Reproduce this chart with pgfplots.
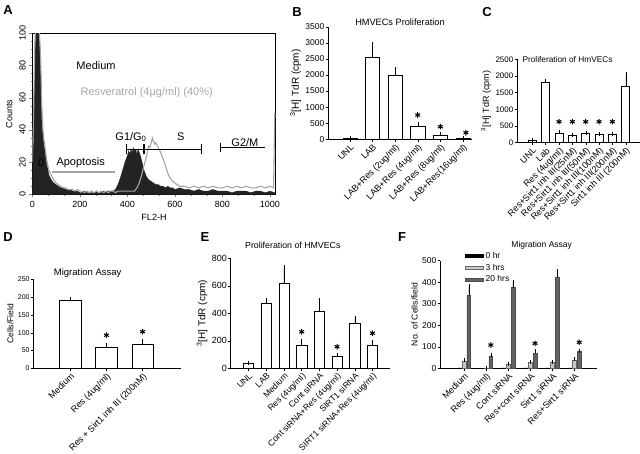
\documentclass[border=0pt]{standalone}
\usepackage{pgfplots}
\pgfplotsset{compat=1.18}
\usepackage{fontspec}
\setmainfont{Liberation Sans}
\definecolor{histgray}{RGB}{165,165,165}
\definecolor{histblack}{RGB}{35,35,35}
\definecolor{barthree}{RGB}{200,200,200}
\definecolor{bartwenty}{RGB}{100,100,100}
\newcommand{\fs}[1]{\fontsize{#1}{#1}\selectfont}
\pgfplotsset{
  every axis title shift=0pt,
  barpanel/.style={
    scale only axis, anchor=south west, clip=false,
    axis x line*=bottom, axis y line*=left,
    axis line style={-, black, line width=0.5pt},
    ymin=0, tick align=outside,
    major tick length=2.5pt,
    ytick style={black, line width=0.4pt},
    xtick style={black, line width=0.4pt},
    /pgf/number format/assume math mode=true,
    /pgf/number format/1000 sep={},
    scaled y ticks=false,
    yticklabel style={font=\fs{8.5}, inner sep=1pt},
    xticklabel style={font=\fs{9}, rotate=45, anchor=north east, inner sep=1pt},
    ylabel style={font=\fs{9}},
    title style={font=\fs{9}},
    bar width=0.6,
  },
  wbar/.style={ybar, bar shift=0pt, fill=white, draw=black, line width=0.5pt,
    error bars/y dir=plus, error bars/y explicit,
    error bars/error bar style={line width=0.4pt, black},
    error bars/error mark options={mark size=2pt, line width=0.4pt, black}},
  star/.style={only marks, mark=asterisk, mark size=2.8pt, line width=1pt, black},
}
\begin{document}
\begin{tikzpicture}
\useasboundingbox (0pt,0pt) rectangle (640pt,453pt);
% ---------------- Panel A ----------------
\begin{axis}[
  scale only axis, anchor=south west, at={(32.3pt,258.7pt)},
  width=243.4pt, height=161pt,
  xmin=0, xmax=1024, ymin=0, ymax=100,
  xtick={0,200,...,1000}, ytick={0,20,...,100},
  minor x tick num=2, minor y tick num=3,
  tick align=outside, tick pos=left,
  major tick length=3pt, minor tick length=1.5pt,
  /pgf/number format/assume math mode=true, /pgf/number format/1000 sep={},
  xticklabel style={font=\fs{9}},
  yticklabel style={font=\fs{9}, rotate=90, anchor=south},
  xlabel={FL2-H}, ylabel={Counts},
  xlabel style={font=\fs{9}}, ylabel style={font=\fs{9}},
  axis line style={line width=0.6pt},
]
\addplot[fill=histblack, draw=histblack, line width=0.3pt] table[row sep=\\] {
x y\\ 0 0\\ 2 15\\ 5 40\\ 10 85\\ 15 105\\ 20 110\\ 25 110\\ 30 100\\ 35 80\\ 40 45\\ 45 36\\ 50 30\\ 55 25\\ 60 19\\ 65 16\\ 70 12\\ 80 9\\ 90 7\\ 100 6\\ 110 5\\ 120 4\\ 130 4\\ 140 3\\ 150 3\\ 160 3\\ 170 2\\ 180 2\\ 190 2\\ 200 1\\ 210 1\\ 220 2\\ 230 1\\ 240 1\\ 250 1\\ 260 1\\ 270 2\\ 280 1\\ 290 1\\ 300 2\\ 310 1\\ 320 2\\ 330 2\\ 340 2\\ 350 3\\ 360 6\\ 370 10\\ 380 15\\ 390 20\\ 400 24\\ 405 27\\ 410 25\\ 415 28\\ 420 26\\ 425 29\\ 430 27\\ 435 28\\ 440 25\\ 445 28\\ 450 26\\ 455 24\\ 460 21\\ 465 18\\ 470 15\\ 475 13\\ 480 11\\ 490 9\\ 500 8\\ 510 7\\ 520 6\\ 530 6\\ 540 5\\ 550 5\\ 560 4\\ 570 5\\ 580 4\\ 590 4\\ 600 3\\ 620 4\\ 640 3\\ 660 3\\ 680 2\\ 700 3\\ 720 2\\ 740 2\\ 760 3\\ 780 2\\ 800 2\\ 820 2\\ 840 1\\ 860 2\\ 880 2\\ 900 2\\ 920 1\\ 940 2\\ 960 2\\ 980 1\\ 1000 2\\ 1020 1\\ 1023 0\\
} \closedcycle;
\addplot[histgray, line width=1.1pt] table[row sep=\\] {
x y\\ 0 20\\ 5 45\\ 10 90\\ 15 110\\ 20 110\\ 25 105\\ 30 100\\ 35 85\\ 40 55\\ 45 40\\ 50 33\\ 55 28\\ 60 22\\ 65 18\\ 70 15\\ 80 12\\ 90 9\\ 100 7\\ 110 6\\ 120 5\\ 130 4\\ 140 4\\ 150 3\\ 160 3\\ 170 3\\ 180 2\\ 190 3\\ 200 2\\ 210 2\\ 220 1\\ 230 2\\ 240 1\\ 250 2\\ 260 1\\ 270 2\\ 280 1\\ 290 2\\ 300 1\\ 310 2\\ 320 1\\ 330 2\\ 340 2\\ 350 1\\ 360 2\\ 370 2\\ 380 2\\ 390 2\\ 400 2\\ 410 2\\ 420 2\\ 430 2\\ 440 4\\ 450 7\\ 460 12\\ 470 18\\ 480 23\\ 485 27\\ 490 30\\ 495 29\\ 500 32\\ 505 35\\ 510 33\\ 515 31\\ 520 32\\ 530 29\\ 540 26\\ 550 22\\ 560 18\\ 570 13\\ 580 10\\ 590 8\\ 600 7\\ 610 6\\ 620 5\\ 640 5\\ 660 4\\ 680 5\\ 700 4\\ 720 5\\ 740 4\\ 760 5\\ 780 4\\ 800 4\\ 820 5\\ 840 4\\ 860 5\\ 880 4\\ 900 5\\ 920 4\\ 940 4\\ 960 5\\ 980 4\\ 1000 5\\ 1015 4\\ 1020 50\\ 1023 50\\
};
\node[anchor=west, font=\fs{11}] at (axis cs:171,80) {Medium};
\node[anchor=west, font=\fs{11}, text=histgray] at (axis cs:188,63) {Resveratrol (4μg/ml) (40\%)};
\node[anchor=west, font=\fs{11}] at (axis cs:335,35.6) {G1/G\textsubscript{0}};
\node[font=\fs{11}] at (axis cs:625,35.6) {S};
\node[anchor=west, font=\fs{11}] at (axis cs:823,31.9) {G2/M};
\node[anchor=west, font=\fs{11}] at (axis cs:87,19.4) {Apoptosis};
\node[font=\fs{11}] at (axis cs:37,19.4) {0};
\draw[histgray, line width=1.2pt] (axis cs:83,13.9) -- (axis cs:348,13.9);
\draw[black, line width=0.6pt] (axis cs:394,25) -- (axis cs:394,31) (axis cs:394,28) -- (axis cs:467,28) (axis cs:467,25) -- (axis cs:467,31);
\draw[black, line width=0.6pt] (axis cs:471,25) -- (axis cs:471,31) (axis cs:471,28) -- (axis cs:712,28) (axis cs:712,25) -- (axis cs:712,31);
\draw[black, line width=0.6pt] (axis cs:790,26) -- (axis cs:790,32) (axis cs:790,29) -- (axis cs:979,29);
\end{axis}
% ---------------- Panel B ----------------
\begin{axis}[barpanel, at={(328pt,313.7pt)}, width=144pt, height=112.6pt,
  xmin=-0.97, xmax=5.4, ymax=3500, ytick={0,500,...,3500},
  xtick={0,...,5}, xticklabels={UNL, LAB, LAB+Res (2ug/ml), LAB+Res (4ug/ml), LAB+Res (8ug/ml), LAB+Res(16ug/ml)},
  ylabel={\textsuperscript{3}[H] TdR (cpm)}, ylabel style={font=\fs{10}},
  title={HMVECs Proliferation}, title style={font=\fs{9.2}, at={(axis description cs:0.5,1.036)}, anchor=center},
  bar width=0.62]
\addplot[wbar] table[row sep=\\, x=x, y=y, y error=e] {x y e\\ 0 30 8\\ 1 2550 400\\ 2 2000 170\\ 3 420 45\\ 4 130 25\\ 5 30 12\\};
\addplot[star] coordinates {(3,755) (4,392) (5.13,205)};
\end{axis}
% ---------------- Panel C ----------------
\begin{axis}[barpanel, at={(517pt,310.3pt)}, width=123pt, height=83.4pt,
  xmin=-1.15, xmax=8.07, ymax=2500, ytick={0,500,...,2500},
  yticklabel style={font=\fs{8}},
  xtick={0,...,7}, xticklabels={UNL, Lab, Res (4ug/ml), Res+Sirt1 inh III(25nM), Res+Sirt1 inh III(50nM), Res+Sirt1 inh III(100nM), Res+Sirt1 inh III(200nM), Sirt1 inh III (200nM)},
  ylabel={\textsuperscript{3}[H] TdR (cpm)},
  bar width=0.6]
\addplot[wbar] table[row sep=\\, x=x, y=y, y error=e] {x y e\\ 0 60 20\\ 1 1800 50\\ 2 270 50\\ 3 210 30\\ 4 270 10\\ 5 240 25\\ 6 265 10\\ 7 1700 350\\};
\addplot[star] coordinates {(2,630) (3,630) (4,630) (5,630) (6,630)};
\node[anchor=west, font=\fs{8.3}, inner sep=0pt] at (axis cs:-0.75,2500) {Proliferation of HmVECs};
\end{axis}
% ---------------- Panel D ----------------
\begin{axis}[barpanel, at={(33.3pt,84.7pt)}, width=147.7pt, height=89pt,
  xmin=-1.02, xmax=3.06, ymax=250, ytick={0,50,...,250},
  yticklabel style={font=\fs{7}},
  xtick={0,1,2}, xticklabels={Medium, Res (4ug/ml), Res + Sirt1 inh III (200nM)},
  ylabel={Cells/Field}, ylabel style={font=\fs{8.5}},
  title={Migration Assay}, title style={font=\fs{9.5}, at={(axis description cs:0.368,1.067)}, anchor=center},
  bar width=0.6]
\addplot[wbar] table[row sep=\\, x=x, y=y, y error=e] {x y e\\ 0 190 6\\ 1 60 6\\ 2 67 9\\};
\addplot[star] coordinates {(1,93) (2,103)};
\end{axis}
% ---------------- Panel E ----------------
\begin{axis}[barpanel, at={(230.7pt,84.7pt)}, width=159.3pt, height=110pt,
  xmin=-1.01, xmax=7.99, ymax=800, ytick={0,200,...,800},
  yticklabel style={font=\fs{9}},
  xtick={0,...,7}, xticklabels={UNL, LAB, Medium, Res (4ug/ml), Cont siRNA, Cont siRNA+Res (4ug/ml), SIRT1 siRNA, SIRT1 siRNA+Res (4ug/ml)},
  xticklabel style={font=\fs{8.6}},
  ylabel={\textsuperscript{3}[H] TdR (cpm)}, ylabel style={font=\fs{10}},
  title={Proliferation of HMVECs}, title style={font=\fs{8.8}, at={(axis description cs:0.39,1.12)}, anchor=center},
  bar width=0.58]
\addplot[wbar] table[row sep=\\, x=x, y=y, y error=e] {x y e\\ 0 38 3\\ 1 470 30\\ 2 615 125\\ 3 170 32\\ 4 415 82\\ 5 88 7\\ 6 325 42\\ 7 170 18\\};
\addplot[star] coordinates {(3,266) (5,157) (7,255)};
\end{axis}
% ---------------- Panel F ----------------
\begin{axis}[barpanel, at={(440pt,84.7pt)}, width=156.7pt, height=107.7pt,
  xmin=-1.09, xmax=6.0, ymax=500, ytick={0,100,...,500},
  yticklabel style={font=\fs{8.5}},
  xtick={0,...,5}, xticklabels={Medium, Res (4ug/ml), Cont siRNA, Res+cont siRNA, Sirt1 siRNA, Res+Sirt1 siRNA},
  ylabel={No. of Cells/field}, ylabel style={font=\fs{8.6}},
  title={Migration Assay}, title style={font=\fs{8.5}, at={(axis description cs:0.649,1.146)}, anchor=center},
  legend style={at={(axis description cs:0.16,1.098)}, anchor=north west, draw=none, fill=none, font=\fs{8.5}, inner sep=0pt, row sep=0pt},
  legend cell align=left,
  bar width=0.17]
\addlegendimage{legend image code/.code={\draw[fill=black, draw=black] (0pt,-1.6pt) rectangle (18pt,1.6pt);}}
\addlegendentry{0 hr}
\addlegendimage{legend image code/.code={\draw[fill=barthree, draw=black!60] (0pt,-1.6pt) rectangle (18pt,1.6pt);}}
\addlegendentry{3 hrs}
\addlegendimage{legend image code/.code={\draw[fill=bartwenty, draw=black!70] (0pt,-1.6pt) rectangle (18pt,1.6pt);}}
\addlegendentry{20 hrs}
\addplot[ybar, bar shift=0pt, fill=black, draw=black, line width=0.3pt] table[row sep=\\] {x y\\ -0.21 2\\ 0.79 1\\ 1.79 2\\ 2.79 2\\ 3.79 2\\ 4.79 2\\};
\addplot[wbar, fill=barthree, draw=black!60] table[row sep=\\, x=x, y=y, y error=e] {x y e\\ 0 35 2\\ 1 2 0\\ 2 20 2\\ 3 27 1\\ 4 30 1\\ 5 38 4\\};
\addplot[wbar, fill=bartwenty, draw=black!70] table[row sep=\\, x=x, y=y, y error=e] {x y e\\ 0.21 340 40\\ 1.21 58 5\\ 2.21 375 25\\ 3.21 70 10\\ 4.21 425 25\\ 5.21 77 5\\};
\addplot[star] coordinates {(1.21,108) (3.21,116) (5.21,121)};
\end{axis}
% ---------------- Panel letters ----------------
\node[font=\bfseries\fs{13}] at (8pt,443pt) {A};
\node[font=\bfseries\fs{13}] at (297pt,441pt) {B};
\node[font=\bfseries\fs{13}] at (487pt,441pt) {C};
\node[font=\bfseries\fs{13}] at (8pt,216pt) {D};
\node[font=\bfseries\fs{13}] at (205pt,216pt) {E};
\node[font=\bfseries\fs{13}] at (402pt,216pt) {F};
\end{tikzpicture}
\end{document}
